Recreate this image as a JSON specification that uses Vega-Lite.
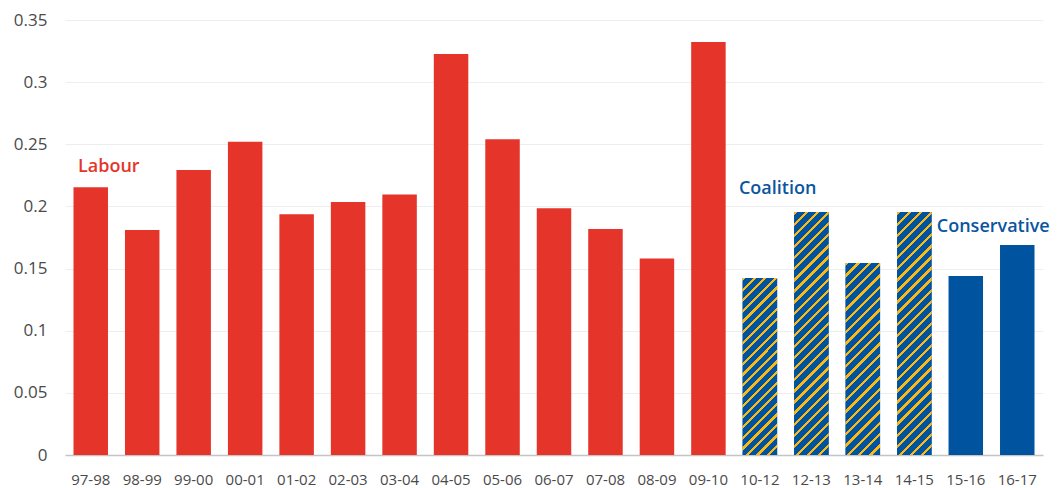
{
  "$schema": "https://vega.github.io/schema/vega-lite/v6.json",
  "width": 978,
  "height": 435,
  "autosize": {"type": "none"},
  "padding": {"left": 65, "top": 20, "right": 19, "bottom": 33},
  "background": "#ffffff",
  "config": {"view": {"stroke": null}, "font": "Open Sans"},
  "data": {"values": [
    {"year": "97-98", "value": 0.2155, "party": "Labour"},
    {"year": "98-99", "value": 0.181, "party": "Labour"},
    {"year": "99-00", "value": 0.2293, "party": "Labour"},
    {"year": "00-01", "value": 0.2521, "party": "Labour"},
    {"year": "01-02", "value": 0.1937, "party": "Labour"},
    {"year": "02-03", "value": 0.2036, "party": "Labour"},
    {"year": "03-04", "value": 0.2095, "party": "Labour"},
    {"year": "04-05", "value": 0.3226, "party": "Labour"},
    {"year": "05-06", "value": 0.254, "party": "Labour"},
    {"year": "06-07", "value": 0.1985, "party": "Labour"},
    {"year": "07-08", "value": 0.1818, "party": "Labour"},
    {"year": "08-09", "value": 0.1582, "party": "Labour"},
    {"year": "09-10", "value": 0.3323, "party": "Labour"},
    {"year": "10-12", "value": 0.1424, "party": "Coalition"},
    {"year": "12-13", "value": 0.1955, "party": "Coalition"},
    {"year": "13-14", "value": 0.1545, "party": "Coalition"},
    {"year": "14-15", "value": 0.1955, "party": "Coalition"},
    {"year": "15-16", "value": 0.144, "party": "Conservative"},
    {"year": "16-17", "value": 0.169, "party": "Conservative"}
  ]},
  "encoding": {
    "x": {
      "field": "year", "type": "ordinal", "sort": null,
      "scale": {"domain": ["97-98","98-99","99-00","00-01","01-02","02-03","03-04","04-05","05-06","06-07","07-08","08-09","09-10","10-12","12-13","13-14","14-15","15-16","16-17"], "paddingInner": 0.33, "paddingOuter": 0.165},
      "axis": {"title": null, "labelAngle": 0, "ticks": false, "tickSize": 0, "domain": true, "domainColor": "#c4c4c4", "domainWidth": 1.5, "grid": false, "labelFontSize": 15, "labelColor": "#4a4a4a", "labelPadding": 17, "labelFont": "Open Sans"}
    },
    "y": {
      "field": "value", "type": "quantitative",
      "scale": {"domain": [0, 0.35], "nice": false},
      "axis": {"title": null, "values": [0, 0.05, 0.1, 0.15, 0.2, 0.25, 0.3, 0.35], "format": "~g", "domain": false, "ticks": false, "tickSize": 0, "grid": true, "gridColor": "#eeeeee", "gridWidth": 1, "labelFontSize": 17, "labelColor": "#4a4a4a", "labelPadding": 18, "labelFont": "Open Sans"}
    }
  },
  "layer": [
    {
      "mark": {"type": "bar"},
      "encoding": {
        "color": {"field": "party", "type": "nominal", "scale": {"domain": ["Labour", "Coalition", "Conservative"], "range": ["#E5352B", "#00539F", "#00539F"]}, "legend": null}
      }
    },
    {
      "transform": [{"filter": "datum.year === '12-13' || datum.year === '14-15'"}],
      "mark": {"type": "bar", "color": {"gradient": "linear", "x1": 0, "y1": 0, "x2": 0.1589, "y2": 1.1194, "stops": [
        {"offset": 0, "color": "#FDB813"}, {"offset": 0.012, "color": "#FDB813"}, {"offset": 0.012, "color": "#00539F"}, {"offset": 0.04, "color": "#00539F"},
        {"offset": 0.04, "color": "#FDB813"}, {"offset": 0.052, "color": "#FDB813"}, {"offset": 0.052, "color": "#00539F"}, {"offset": 0.08, "color": "#00539F"},
        {"offset": 0.08, "color": "#FDB813"}, {"offset": 0.092, "color": "#FDB813"}, {"offset": 0.092, "color": "#00539F"}, {"offset": 0.12, "color": "#00539F"},
        {"offset": 0.12, "color": "#FDB813"}, {"offset": 0.132, "color": "#FDB813"}, {"offset": 0.132, "color": "#00539F"}, {"offset": 0.16, "color": "#00539F"},
        {"offset": 0.16, "color": "#FDB813"}, {"offset": 0.172, "color": "#FDB813"}, {"offset": 0.172, "color": "#00539F"}, {"offset": 0.2, "color": "#00539F"},
        {"offset": 0.2, "color": "#FDB813"}, {"offset": 0.212, "color": "#FDB813"}, {"offset": 0.212, "color": "#00539F"}, {"offset": 0.24, "color": "#00539F"},
        {"offset": 0.24, "color": "#FDB813"}, {"offset": 0.252, "color": "#FDB813"}, {"offset": 0.252, "color": "#00539F"}, {"offset": 0.28, "color": "#00539F"},
        {"offset": 0.28, "color": "#FDB813"}, {"offset": 0.292, "color": "#FDB813"}, {"offset": 0.292, "color": "#00539F"}, {"offset": 0.32, "color": "#00539F"},
        {"offset": 0.32, "color": "#FDB813"}, {"offset": 0.332, "color": "#FDB813"}, {"offset": 0.332, "color": "#00539F"}, {"offset": 0.36, "color": "#00539F"},
        {"offset": 0.36, "color": "#FDB813"}, {"offset": 0.372, "color": "#FDB813"}, {"offset": 0.372, "color": "#00539F"}, {"offset": 0.4, "color": "#00539F"},
        {"offset": 0.4, "color": "#FDB813"}, {"offset": 0.412, "color": "#FDB813"}, {"offset": 0.412, "color": "#00539F"}, {"offset": 0.44, "color": "#00539F"},
        {"offset": 0.44, "color": "#FDB813"}, {"offset": 0.452, "color": "#FDB813"}, {"offset": 0.452, "color": "#00539F"}, {"offset": 0.48, "color": "#00539F"},
        {"offset": 0.48, "color": "#FDB813"}, {"offset": 0.492, "color": "#FDB813"}, {"offset": 0.492, "color": "#00539F"}, {"offset": 0.52, "color": "#00539F"},
        {"offset": 0.52, "color": "#FDB813"}, {"offset": 0.532, "color": "#FDB813"}, {"offset": 0.532, "color": "#00539F"}, {"offset": 0.56, "color": "#00539F"},
        {"offset": 0.56, "color": "#FDB813"}, {"offset": 0.572, "color": "#FDB813"}, {"offset": 0.572, "color": "#00539F"}, {"offset": 0.6, "color": "#00539F"},
        {"offset": 0.6, "color": "#FDB813"}, {"offset": 0.612, "color": "#FDB813"}, {"offset": 0.612, "color": "#00539F"}, {"offset": 0.64, "color": "#00539F"},
        {"offset": 0.64, "color": "#FDB813"}, {"offset": 0.652, "color": "#FDB813"}, {"offset": 0.652, "color": "#00539F"}, {"offset": 0.68, "color": "#00539F"},
        {"offset": 0.68, "color": "#FDB813"}, {"offset": 0.692, "color": "#FDB813"}, {"offset": 0.692, "color": "#00539F"}, {"offset": 0.72, "color": "#00539F"},
        {"offset": 0.72, "color": "#FDB813"}, {"offset": 0.732, "color": "#FDB813"}, {"offset": 0.732, "color": "#00539F"}, {"offset": 0.76, "color": "#00539F"},
        {"offset": 0.76, "color": "#FDB813"}, {"offset": 0.772, "color": "#FDB813"}, {"offset": 0.772, "color": "#00539F"}, {"offset": 0.8, "color": "#00539F"},
        {"offset": 0.8, "color": "#FDB813"}, {"offset": 0.812, "color": "#FDB813"}, {"offset": 0.812, "color": "#00539F"}, {"offset": 0.84, "color": "#00539F"},
        {"offset": 0.84, "color": "#FDB813"}, {"offset": 0.852, "color": "#FDB813"}, {"offset": 0.852, "color": "#00539F"}, {"offset": 0.88, "color": "#00539F"},
        {"offset": 0.88, "color": "#FDB813"}, {"offset": 0.892, "color": "#FDB813"}, {"offset": 0.892, "color": "#00539F"}, {"offset": 0.92, "color": "#00539F"},
        {"offset": 0.92, "color": "#FDB813"}, {"offset": 0.932, "color": "#FDB813"}, {"offset": 0.932, "color": "#00539F"}, {"offset": 0.96, "color": "#00539F"},
        {"offset": 0.96, "color": "#FDB813"}, {"offset": 0.972, "color": "#FDB813"}, {"offset": 0.972, "color": "#00539F"}, {"offset": 1, "color": "#00539F"}
      ]}}
    },
    {
      "transform": [{"filter": "datum.year === '10-12'"}],
      "mark": {"type": "bar", "color": {"gradient": "linear", "x1": 0, "y1": 0, "x2": 0.2244, "y2": 1.1512, "stops": [
        {"offset": 0, "color": "#FDB813"}, {"offset": 0.015, "color": "#FDB813"}, {"offset": 0.015, "color": "#00539F"}, {"offset": 0.05, "color": "#00539F"},
        {"offset": 0.05, "color": "#FDB813"}, {"offset": 0.065, "color": "#FDB813"}, {"offset": 0.065, "color": "#00539F"}, {"offset": 0.1, "color": "#00539F"},
        {"offset": 0.1, "color": "#FDB813"}, {"offset": 0.115, "color": "#FDB813"}, {"offset": 0.115, "color": "#00539F"}, {"offset": 0.15, "color": "#00539F"},
        {"offset": 0.15, "color": "#FDB813"}, {"offset": 0.165, "color": "#FDB813"}, {"offset": 0.165, "color": "#00539F"}, {"offset": 0.2, "color": "#00539F"},
        {"offset": 0.2, "color": "#FDB813"}, {"offset": 0.215, "color": "#FDB813"}, {"offset": 0.215, "color": "#00539F"}, {"offset": 0.25, "color": "#00539F"},
        {"offset": 0.25, "color": "#FDB813"}, {"offset": 0.265, "color": "#FDB813"}, {"offset": 0.265, "color": "#00539F"}, {"offset": 0.3, "color": "#00539F"},
        {"offset": 0.3, "color": "#FDB813"}, {"offset": 0.315, "color": "#FDB813"}, {"offset": 0.315, "color": "#00539F"}, {"offset": 0.35, "color": "#00539F"},
        {"offset": 0.35, "color": "#FDB813"}, {"offset": 0.365, "color": "#FDB813"}, {"offset": 0.365, "color": "#00539F"}, {"offset": 0.4, "color": "#00539F"},
        {"offset": 0.4, "color": "#FDB813"}, {"offset": 0.415, "color": "#FDB813"}, {"offset": 0.415, "color": "#00539F"}, {"offset": 0.45, "color": "#00539F"},
        {"offset": 0.45, "color": "#FDB813"}, {"offset": 0.465, "color": "#FDB813"}, {"offset": 0.465, "color": "#00539F"}, {"offset": 0.5, "color": "#00539F"},
        {"offset": 0.5, "color": "#FDB813"}, {"offset": 0.515, "color": "#FDB813"}, {"offset": 0.515, "color": "#00539F"}, {"offset": 0.55, "color": "#00539F"},
        {"offset": 0.55, "color": "#FDB813"}, {"offset": 0.565, "color": "#FDB813"}, {"offset": 0.565, "color": "#00539F"}, {"offset": 0.6, "color": "#00539F"},
        {"offset": 0.6, "color": "#FDB813"}, {"offset": 0.615, "color": "#FDB813"}, {"offset": 0.615, "color": "#00539F"}, {"offset": 0.65, "color": "#00539F"},
        {"offset": 0.65, "color": "#FDB813"}, {"offset": 0.665, "color": "#FDB813"}, {"offset": 0.665, "color": "#00539F"}, {"offset": 0.7, "color": "#00539F"},
        {"offset": 0.7, "color": "#FDB813"}, {"offset": 0.715, "color": "#FDB813"}, {"offset": 0.715, "color": "#00539F"}, {"offset": 0.75, "color": "#00539F"},
        {"offset": 0.75, "color": "#FDB813"}, {"offset": 0.765, "color": "#FDB813"}, {"offset": 0.765, "color": "#00539F"}, {"offset": 0.8, "color": "#00539F"},
        {"offset": 0.8, "color": "#FDB813"}, {"offset": 0.815, "color": "#FDB813"}, {"offset": 0.815, "color": "#00539F"}, {"offset": 0.85, "color": "#00539F"},
        {"offset": 0.85, "color": "#FDB813"}, {"offset": 0.865, "color": "#FDB813"}, {"offset": 0.865, "color": "#00539F"}, {"offset": 0.9, "color": "#00539F"},
        {"offset": 0.9, "color": "#FDB813"}, {"offset": 0.915, "color": "#FDB813"}, {"offset": 0.915, "color": "#00539F"}, {"offset": 0.95, "color": "#00539F"},
        {"offset": 0.95, "color": "#FDB813"}, {"offset": 0.965, "color": "#FDB813"}, {"offset": 0.965, "color": "#00539F"}, {"offset": 1, "color": "#00539F"}
      ]}}
    },
    {
      "transform": [{"filter": "datum.year === '13-14'"}],
      "mark": {"type": "bar", "color": {"gradient": "linear", "x1": 0, "y1": 0, "x2": 0.2053, "y2": 1.1428, "stops": [
        {"offset": 0, "color": "#FDB813"}, {"offset": 0.015, "color": "#FDB813"}, {"offset": 0.015, "color": "#00539F"}, {"offset": 0.05, "color": "#00539F"},
        {"offset": 0.05, "color": "#FDB813"}, {"offset": 0.065, "color": "#FDB813"}, {"offset": 0.065, "color": "#00539F"}, {"offset": 0.1, "color": "#00539F"},
        {"offset": 0.1, "color": "#FDB813"}, {"offset": 0.115, "color": "#FDB813"}, {"offset": 0.115, "color": "#00539F"}, {"offset": 0.15, "color": "#00539F"},
        {"offset": 0.15, "color": "#FDB813"}, {"offset": 0.165, "color": "#FDB813"}, {"offset": 0.165, "color": "#00539F"}, {"offset": 0.2, "color": "#00539F"},
        {"offset": 0.2, "color": "#FDB813"}, {"offset": 0.215, "color": "#FDB813"}, {"offset": 0.215, "color": "#00539F"}, {"offset": 0.25, "color": "#00539F"},
        {"offset": 0.25, "color": "#FDB813"}, {"offset": 0.265, "color": "#FDB813"}, {"offset": 0.265, "color": "#00539F"}, {"offset": 0.3, "color": "#00539F"},
        {"offset": 0.3, "color": "#FDB813"}, {"offset": 0.315, "color": "#FDB813"}, {"offset": 0.315, "color": "#00539F"}, {"offset": 0.35, "color": "#00539F"},
        {"offset": 0.35, "color": "#FDB813"}, {"offset": 0.365, "color": "#FDB813"}, {"offset": 0.365, "color": "#00539F"}, {"offset": 0.4, "color": "#00539F"},
        {"offset": 0.4, "color": "#FDB813"}, {"offset": 0.415, "color": "#FDB813"}, {"offset": 0.415, "color": "#00539F"}, {"offset": 0.45, "color": "#00539F"},
        {"offset": 0.45, "color": "#FDB813"}, {"offset": 0.465, "color": "#FDB813"}, {"offset": 0.465, "color": "#00539F"}, {"offset": 0.5, "color": "#00539F"},
        {"offset": 0.5, "color": "#FDB813"}, {"offset": 0.515, "color": "#FDB813"}, {"offset": 0.515, "color": "#00539F"}, {"offset": 0.55, "color": "#00539F"},
        {"offset": 0.55, "color": "#FDB813"}, {"offset": 0.565, "color": "#FDB813"}, {"offset": 0.565, "color": "#00539F"}, {"offset": 0.6, "color": "#00539F"},
        {"offset": 0.6, "color": "#FDB813"}, {"offset": 0.615, "color": "#FDB813"}, {"offset": 0.615, "color": "#00539F"}, {"offset": 0.65, "color": "#00539F"},
        {"offset": 0.65, "color": "#FDB813"}, {"offset": 0.665, "color": "#FDB813"}, {"offset": 0.665, "color": "#00539F"}, {"offset": 0.7, "color": "#00539F"},
        {"offset": 0.7, "color": "#FDB813"}, {"offset": 0.715, "color": "#FDB813"}, {"offset": 0.715, "color": "#00539F"}, {"offset": 0.75, "color": "#00539F"},
        {"offset": 0.75, "color": "#FDB813"}, {"offset": 0.765, "color": "#FDB813"}, {"offset": 0.765, "color": "#00539F"}, {"offset": 0.8, "color": "#00539F"},
        {"offset": 0.8, "color": "#FDB813"}, {"offset": 0.815, "color": "#FDB813"}, {"offset": 0.815, "color": "#00539F"}, {"offset": 0.85, "color": "#00539F"},
        {"offset": 0.85, "color": "#FDB813"}, {"offset": 0.865, "color": "#FDB813"}, {"offset": 0.865, "color": "#00539F"}, {"offset": 0.9, "color": "#00539F"},
        {"offset": 0.9, "color": "#FDB813"}, {"offset": 0.915, "color": "#FDB813"}, {"offset": 0.915, "color": "#00539F"}, {"offset": 0.95, "color": "#00539F"},
        {"offset": 0.95, "color": "#FDB813"}, {"offset": 0.965, "color": "#FDB813"}, {"offset": 0.965, "color": "#00539F"}, {"offset": 1, "color": "#00539F"}
      ]}}
    },
    {
      "data": {"values": [{"year": "97-98", "value": 0.2277, "label": "Labour"}]},
      "mark": {"type": "text", "align": "left", "baseline": "alphabetic", "dx": -12.75, "fontSize": 18, "fontWeight": 600, "font": "Open Sans", "color": "#E5352B"},
      "encoding": {"text": {"field": "label"}}
    },
    {
      "data": {"values": [{"year": "10-12", "value": 0.21, "label": "Coalition"}]},
      "mark": {"type": "text", "align": "left", "baseline": "alphabetic", "dx": -21, "fontSize": 18, "fontWeight": 600, "font": "Open Sans", "color": "#0B559F"},
      "encoding": {"text": {"field": "label"}}
    },
    {
      "data": {"values": [{"year": "15-16", "value": 0.1797, "label": "Conservative"}]},
      "mark": {"type": "text", "align": "left", "baseline": "alphabetic", "dx": -29, "fontSize": 18, "fontWeight": 600, "font": "Open Sans", "color": "#0B559F"},
      "encoding": {"text": {"field": "label"}}
    }
  ]
}
